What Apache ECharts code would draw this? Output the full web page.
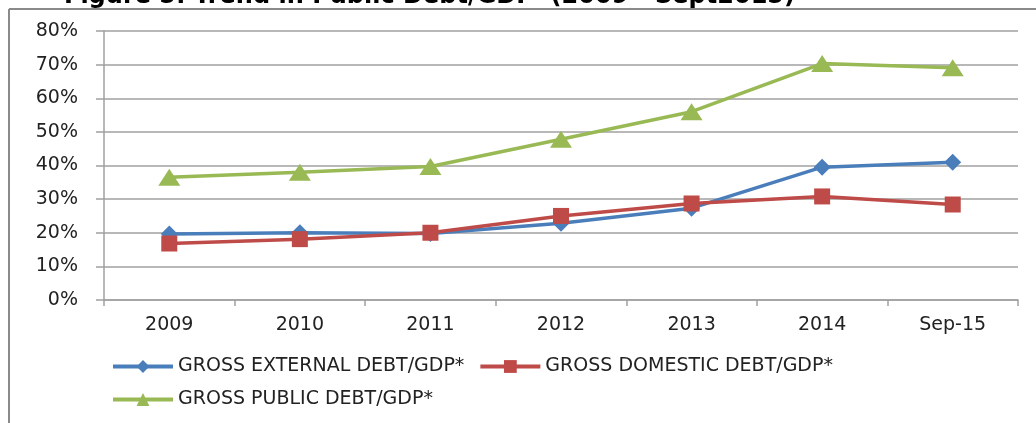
<!DOCTYPE html>
<html>
<head>
<meta charset="utf-8">
<script src="https://cdn.jsdelivr.net/npm/echarts@6/dist/echarts.min.js"></script>
<style>html,body{margin:0;padding:0;background:#fff}#c{width:1036px;height:423px}</style>
</head>
<body>
<div id="c"></div>
<script>
var categories = ['2009', '2010', '2011', '2012', '2013', '2014', 'Sep-15'];
var externalDebt = [19.6, 20.0, 19.8, 22.8, 27.3, 39.5, 41.0];
var domesticDebt = [16.8, 18.1, 20.0, 25.0, 28.7, 30.8, 28.4];
var publicDebt = [36.5, 38.0, 39.7, 47.8, 56.0, 70.3, 69.1];
var yTicks = [0, 10, 20, 30, 40, 50, 60, 70, 80];
var titleText = 'Figure 5: Trend in Public Debt/GDP  (2009 - Sept2015)';

var chart = echarts.init(document.getElementById('c'));
var font = 'DejaVu Sans';
chart.setOption({
  animation: false,
  textStyle: { fontFamily: font },
  graphic: [
    { type: 'line', shape: { x1: 9, y1: 9, x2: 1036, y2: 9 }, style: { stroke: '#8a8a8a', lineWidth: 2 } },
    { type: 'line', shape: { x1: 9, y1: 9, x2: 9, y2: 423 }, style: { stroke: '#8a8a8a', lineWidth: 2 } },
    { type: 'text', left: 64, top: -15, style: { text: titleText, font: 'bold 24px "DejaVu Sans"', fill: '#000' } }
  ],
  grid: { left: 104, right: 18, top: 31, bottom: 123, containLabel: false },
  legend: {
    left: 106, top: 352, width: 900, itemWidth: 60, itemHeight: 16, itemGap: 14,
    lineStyle: { width: 4 },
    textStyle: { fontSize: 19, color: '#222', fontFamily: font, padding: [0, 0, 0, 0] },
    data: ['GROSS EXTERNAL DEBT/GDP*', 'GROSS DOMESTIC DEBT/GDP*', 'GROSS PUBLIC DEBT/GDP*']
  },
  xAxis: {
    type: 'category', data: categories, boundaryGap: true,
    axisLine: { lineStyle: { color: '#a0a0a0', width: 1.5 } },
    axisTick: { show: true, length: 6, lineStyle: { color: '#a0a0a0', width: 1.5 } },
    axisLabel: { fontSize: 19, color: '#222', margin: 16 }
  },
  yAxis: {
    type: 'value', min: yTicks[0], max: yTicks[yTicks.length - 1], interval: 10,
    axisLine: { show: true, lineStyle: { color: '#a0a0a0', width: 1.5 } },
    axisTick: { show: true, length: 8, lineStyle: { color: '#a0a0a0', width: 1.5 } },
    axisLabel: { fontSize: 19, color: '#222', margin: 26, formatter: '{value}%' },
    splitLine: { lineStyle: { color: '#a0a0a0', width: 1.5 } }
  },
  series: [
    { name: 'GROSS EXTERNAL DEBT/GDP*', type: 'line', data: externalDebt, symbol: 'diamond', symbolSize: 17,
      itemStyle: { color: '#4A7EBB' }, lineStyle: { width: 3.5, color: '#4A7EBB' } },
    { name: 'GROSS DOMESTIC DEBT/GDP*', type: 'line', data: domesticDebt, symbol: 'rect', symbolSize: 16,
      itemStyle: { color: '#BE4B48' }, lineStyle: { width: 3.5, color: '#BE4B48' } },
    { name: 'GROSS PUBLIC DEBT/GDP*', type: 'line', data: publicDebt, symbol: 'triangle', symbolSize: [22, 17],
      itemStyle: { color: '#98B954' }, lineStyle: { width: 3.5, color: '#98B954' } }
  ]
});
</script>
</body>
</html>
